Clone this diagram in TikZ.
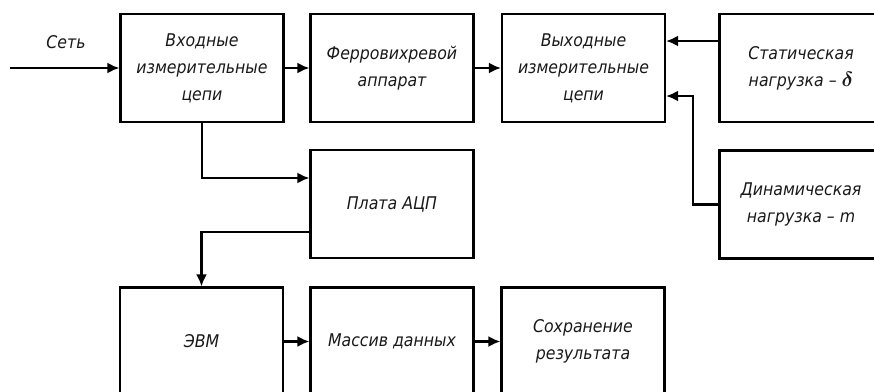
\documentclass[tikz,border=0pt]{standalone}
\usepackage{amsmath}
\usepackage{bm}
\usepackage{fontspec}
\setmainfont{DejaVu Sans Condensed}
\usetikzlibrary{arrows.meta}

\begin{document}
\begin{tikzpicture}[x=1pt,y=-1pt,
    blok/.style={draw,line width=2.2pt,minimum width=163pt,minimum height=108pt,
      inner sep=0pt,align=center,text=black!90,
      font=\itshape\fontsize{17.5}{27}\selectfont},
    arr/.style={line width=2.2pt,-{Latex[length=12pt,width=11pt]}}]
	%%%%% START %%%%%
	
	\useasboundingbox (0,0) rectangle (874,391);
	\clip (0,0) rectangle (874,391);
	
	\node[blok] (vhod) at (202,68) {Входные\\измерительные\\цепи};
	\node[blok] (ferro) at (392,68) {Ферровихревой\\аппарат};
	\node[blok] (vyhod) at (583.5,68) {Выходные\\измерительные\\цепи};
	\node[blok] (stat) at (801,68) {Статическая\\нагрузка -- {\fontsize{22}{27}\selectfont$\bm{\delta}$}};
	
	\node[blok] (plata) at (392,204) {Плата АЦП};
	\node[blok] (dyn) at (801,204.5) {Динамическая\\нагрузка -- m};
	
	\node[blok] (evm) at (201.5,341.5) {ЭВМ};
	\node[blok] (massiv) at (392,341.5) {Массив данных};
	\node[blok] (sohr) at (583,341.5) {Сохранение\\результата};
	
	\node[text=black!90,font=\itshape\fontsize{17.5}{27}\selectfont] (setlabel) at (66,42) {Сеть};
	\coordinate (set) at (10,68);
	\coordinate (knee) at (693,96);
	
	\draw[arr] (set) -- (vhod);
	\draw[arr] (vhod) -- (ferro);
	\draw[arr] (ferro) -- (vyhod);
	\draw[arr] ([yshift=27pt]stat.west) -- ([yshift=27pt]vyhod.east);
	\draw[arr] (dyn.west) -| (knee) -- (vyhod.east |- knee);
	
	\draw[arr] (vhod.south) |- ([yshift=26pt]plata.west);
	\draw[arr] ([yshift=-28pt]plata.west) -| (evm.north);
	
	\draw[arr] (evm) -- (massiv);
	\draw[arr] (massiv) -- (sohr);
	
	%%%%% END %%%%%
\end{tikzpicture}
\end{document}
